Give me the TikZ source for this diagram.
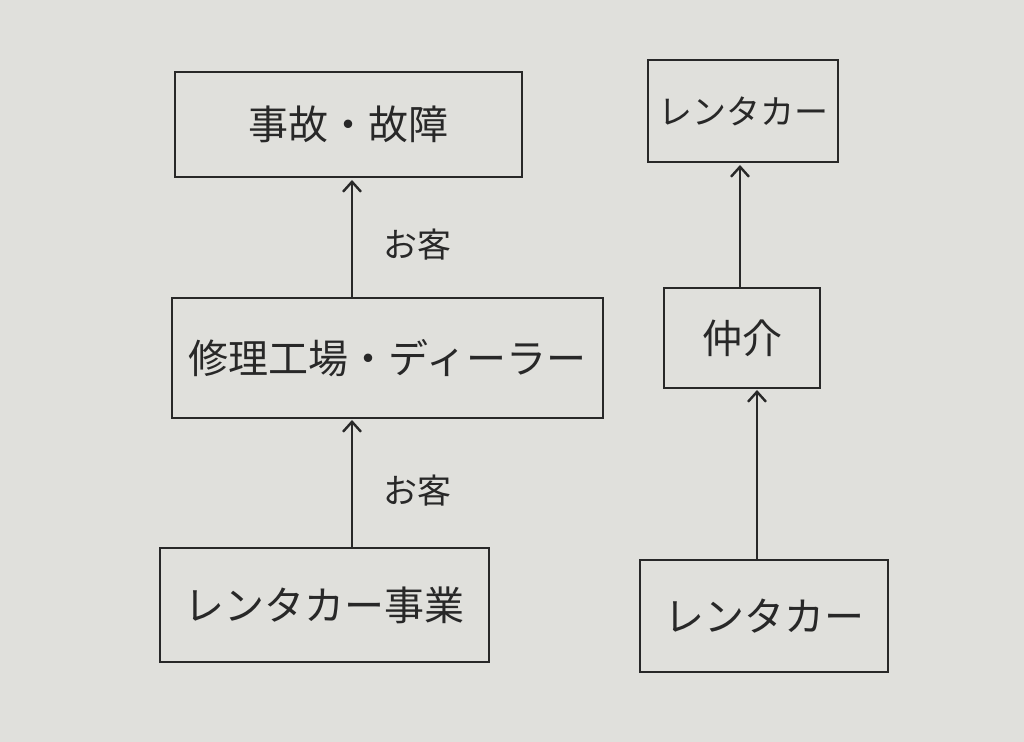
\documentclass[tikz,border=0pt]{standalone}
\usepackage{fontspec}
\usetikzlibrary{arrows.meta}
\newfontfamily\cjk{Noto Sans CJK JP}
\definecolor{paper}{RGB}{224,224,220}
\definecolor{ink}{RGB}{40,40,40}
\begin{document}
\begin{tikzpicture}[x=0.5pt,y=-0.5pt,
  box/.style={draw=ink,line width=1.2pt,inner sep=0pt,font=\cjk\fontsize{20}{24}\selectfont,text=ink},
  arr/.style={draw=ink,line width=1.2pt,-{Straight Barb[length=5pt,width=9pt]}},
  lab/.style={font=\cjk\fontsize{17}{20}\selectfont,text=ink}]
\fill[paper] (0,0) rectangle (1024,742);
\useasboundingbox (0,0) rectangle (1024,742);
\node[box,minimum width=173.5pt,minimum height=52.5pt] (a) at (348.5,124.5) {事故・故障};
\node[box,minimum width=215.5pt,minimum height=60pt] (b) at (387.5,358) {修理工場・ディーラー};
\node[box,minimum width=164.5pt,minimum height=57pt] (c) at (324.5,605) {レンタカー事業};
\node[box,minimum width=95pt,minimum height=51pt,font=\cjk\fontsize{17}{20}\selectfont] (d) at (743,111) {レンタカー};
\node[box,minimum width=78pt,minimum height=50pt] (e) at (742,338) {仲介};
\node[box,minimum width=124pt,minimum height=56pt] (f) at (764,616) {レンタカー};
\coordinate (c1) at (352,548); \coordinate (b1) at (352,420);
\coordinate (b2) at (352,298); \coordinate (a1) at (352,180);
\draw[arr] (c1) -- (b1) node[pos=0.45,right=12pt,lab] (l1) {お客};
\draw[arr] (b2) -- (a1) node[pos=0.45,right=12pt,lab] (l2) {お客};
\coordinate (f1) at (757,560); \coordinate (e1) at (757,390);
\coordinate (e2) at (740,288); \coordinate (d1) at (740,165);
\draw[arr] (f1) -- (e1);
\draw[arr] (e2) -- (d1);
\end{tikzpicture}
\end{document}
